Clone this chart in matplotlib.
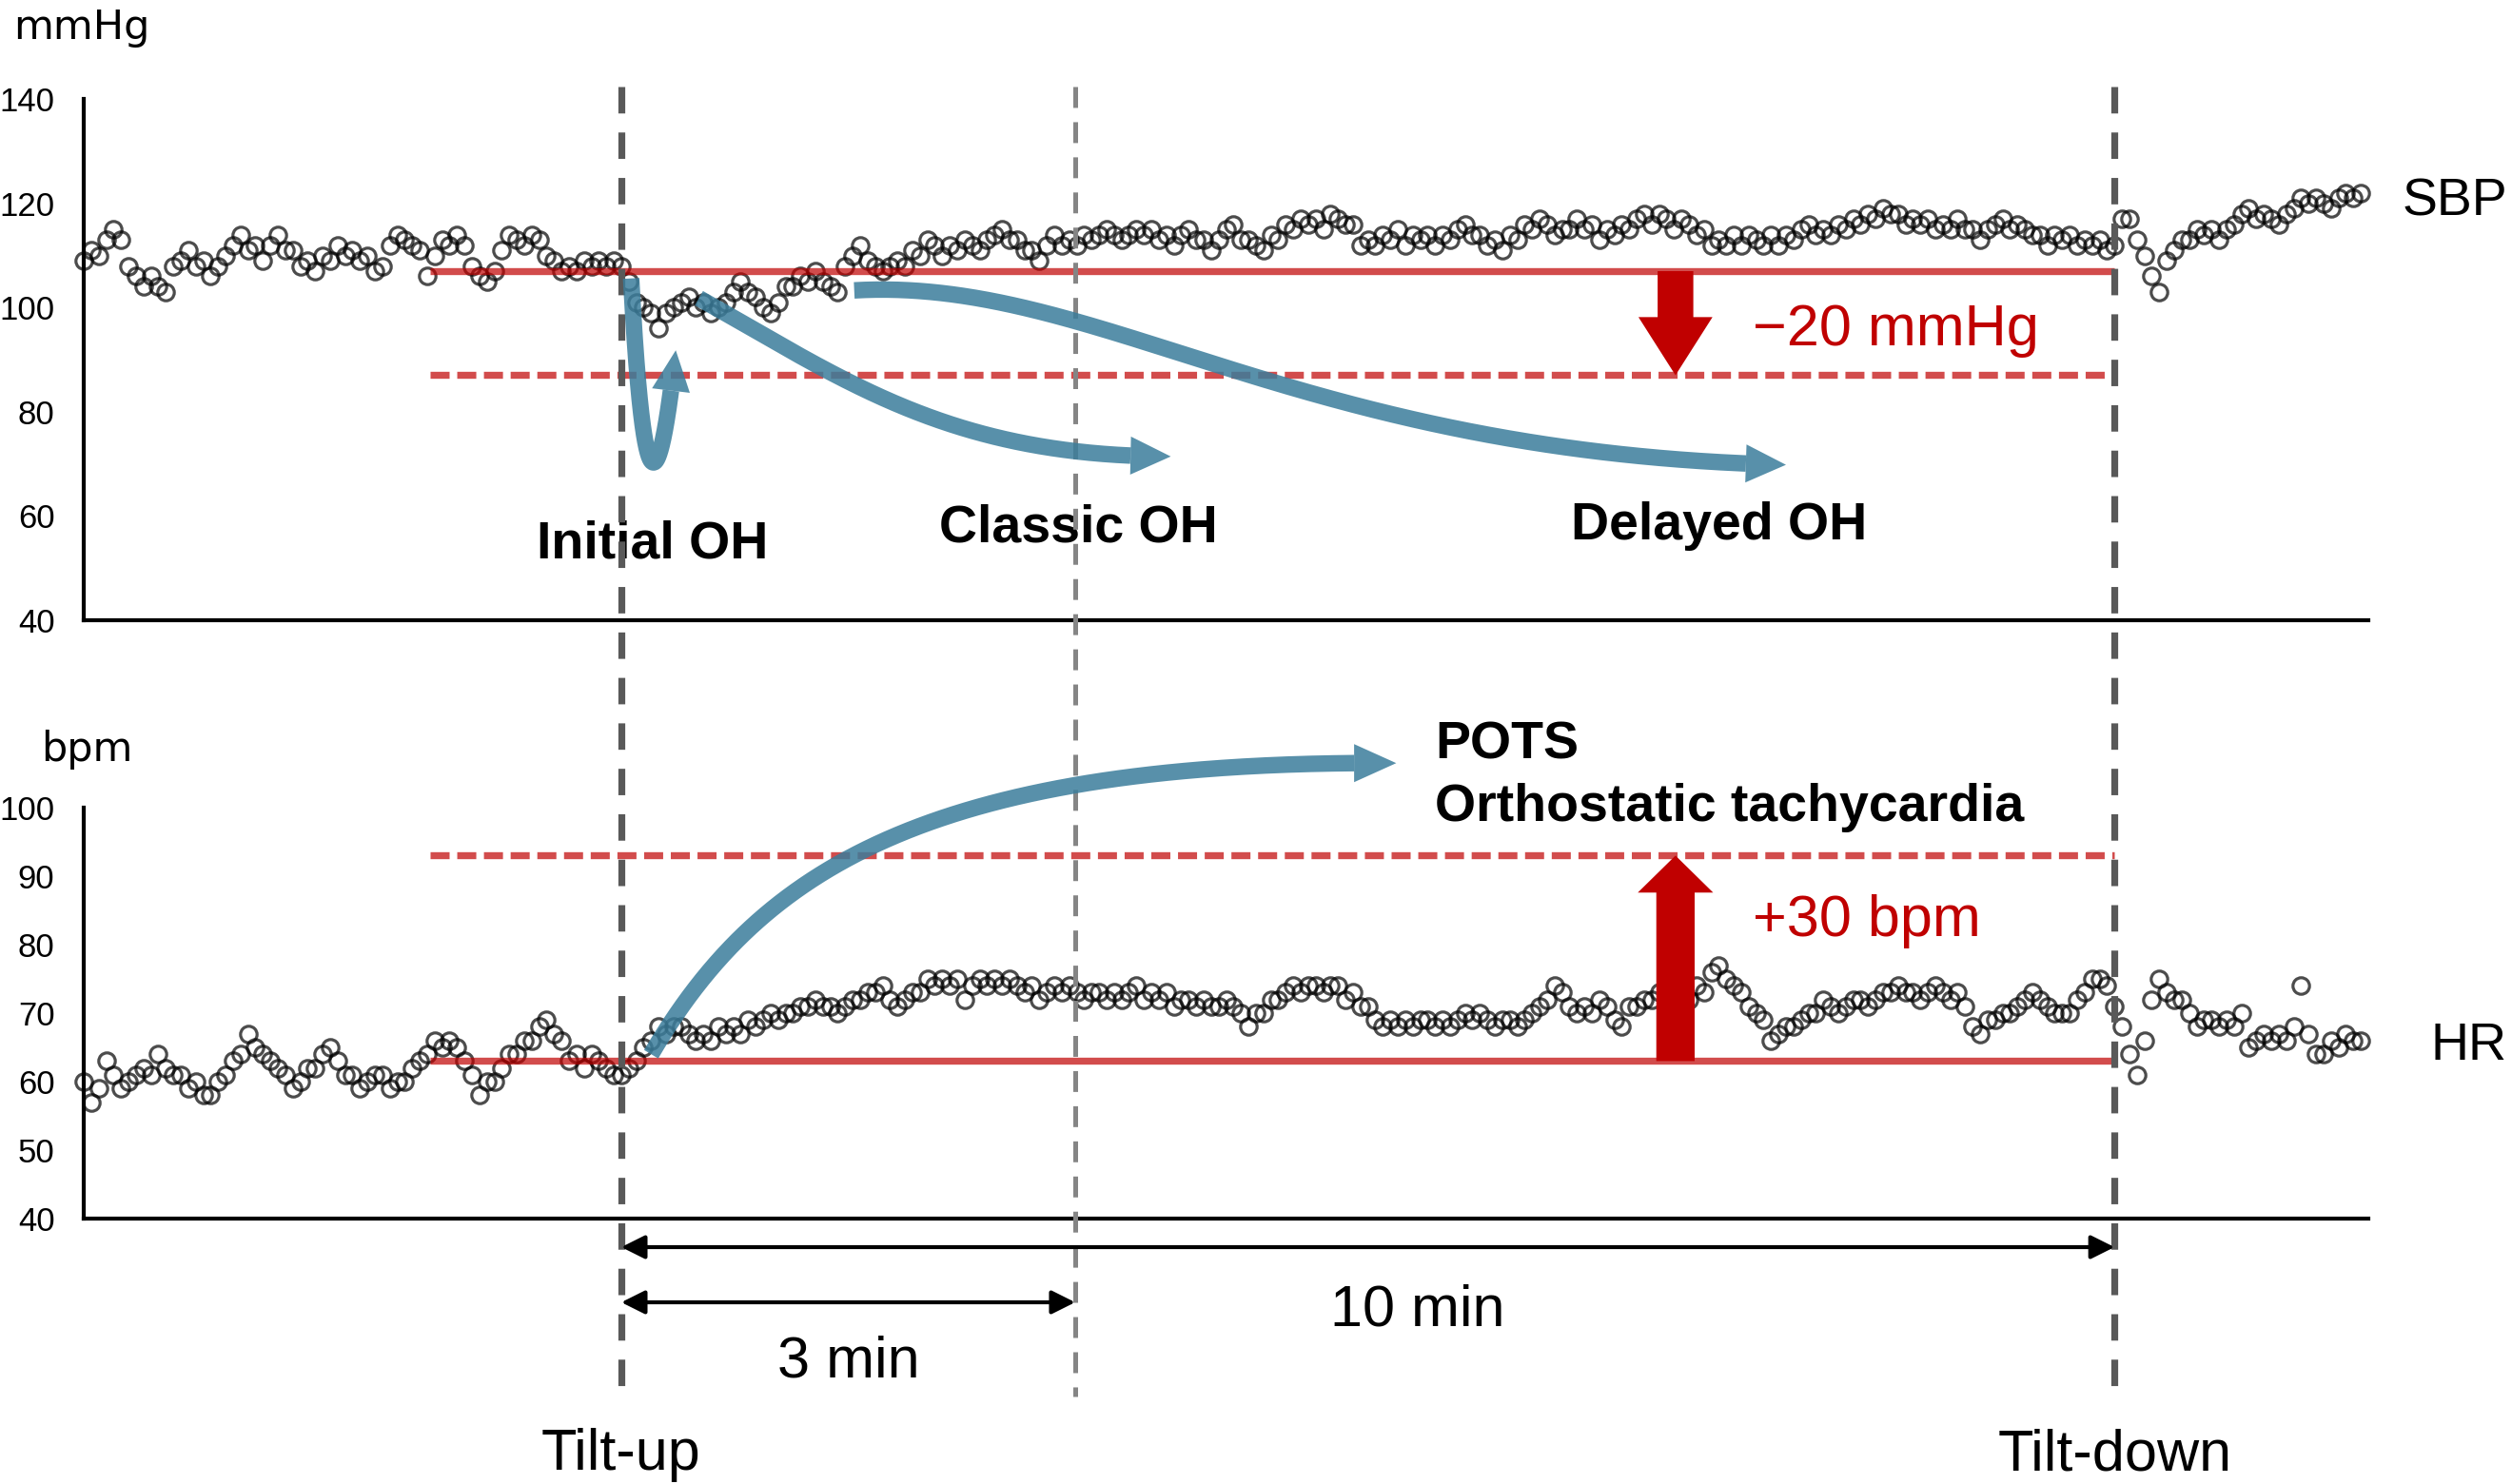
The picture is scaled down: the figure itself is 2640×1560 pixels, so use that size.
import numpy as np
import matplotlib
matplotlib.use('Agg')
import matplotlib.pyplot as plt
from matplotlib import transforms
from matplotlib.lines import Line2D
from matplotlib.patches import Polygon, FancyArrowPatch

plt.rcParams['font.family'] = ['Liberation Sans', 'DejaVu Sans']
plt.rcParams['lines.scale_dashes'] = False

# beat readings, one value every 0.05 min starting at -3.6 min (tilt-up = 0)
T_START = -3.6
STEP = 0.05

sbp = [
    109, 111, 110, 113, 115, 113, 108, 106, 104, 106, 104, 103, 108, 109, 111, 108, 109, 106, 108, 110,
    112, 114, 111, 112, 109, 112, 114, 111, 111, 108, 109, 107, 110, 109, 112, 110, 111, 109, 110, 107,
    108, 112, 114, 113, 112, 111, 106, 110, 113, 112, 114, 112, 108, 106, 105, 107, 111, 114, 113, 112,
    114, 113, 110, 109, 107, 108, 107, 109, 108, 109, 108, 109, 108, 105, 101, 100, 99, 96, 99, 100,
    101, 102, 100, 101, 99, 100, 101, 103, 105, 103, 102, 100, 99, 101, 104, 104, 106, 105, 107, 105,
    104, 103, 108, 110, 112, 109, 108, 107, 108, 109, 108, 111, 110, 113, 112, 110, 112, 111, 113, 112,
    111, 113, 114, 115, 113, 113, 111, 111, 109, 112, 114, 112, 113, 112, 114, 113, 114, 115, 114, 113,
    114, 115, 114, 115, 113, 114, 112, 114, 115, 113, 113, 111, 113, 115, 116, 113, 113, 112, 111, 114,
    113, 116, 115, 117, 116, 117, 115, 118, 117, 116, 116, 112, 113, 112, 114, 113, 115, 112, 114, 113,
    114, 112, 114, 113, 115, 116, 114, 114, 112, 113, 111, 114, 113, 116, 115, 117, 116, 114, 115, 115,
    117, 115, 116, 113, 115, 114, 116, 115, 117, 118, 116, 118, 117, 115, 117, 116, 114, 115, 112, 113,
    112, 114, 112, 114, 113, 112, 114, 112, 114, 113, 115, 116, 114, 115, 114, 116, 115, 117, 116, 118,
    117, 119, 118, 118, 116, 117, 116, 117, 115, 116, 115, 117, 115, 115, 113, 115, 116, 117, 115, 116,
    115, 114, 114, 112, 114, 113, 114, 112, 113, 112, 113, 111, 112, 117, 117, 113, 110, 106, 103, 109,
    111, 113, 113, 115, 114, 115, 113, 115, 116, 118, 119, 117, 118, 117, 116, 118, 119, 121, 120, 121,
    120, 119, 121, 122, 121, 122,
]

hr = [
    60, 57, 59, 63, 61, 59, 60, 61, 62, 61, 64, 62, 61, 61, 59, 60, 58, 58, 60, 61,
    63, 64, 67, 65, 64, 63, 62, 61, 59, 60, 62, 62, 64, 65, 63, 61, 61, 59, 60, 61,
    61, 59, 60, 60, 62, 63, 64, 66, 65, 66, 65, 63, 61, 58, 60, 60, 62, 64, 64, 66,
    66, 68, 69, 67, 66, 63, 64, 62, 64, 63, 62, 61, 61, 62, 63, 65, 66, 68, 67, 68,
    68, 67, 66, 67, 66, 68, 67, 68, 67, 69, 68, 69, 70, 69, 70, 70, 71, 71, 72, 71,
    71, 70, 71, 72, 72, 73, 73, 74, 72, 71, 72, 73, 73, 75, 74, 75, 74, 75, 72, 74,
    75, 74, 75, 74, 75, 74, 73, 74, 72, 73, 74, 73, 74, 73, 72, 73, 73, 72, 73, 72,
    73, 74, 72, 73, 72, 73, 71, 72, 72, 71, 72, 71, 71, 72, 71, 70, 68, 70, 70, 72,
    72, 73, 74, 73, 74, 74, 73, 74, 74, 72, 73, 71, 71, 69, 68, 69, 68, 69, 68, 69,
    69, 68, 69, 68, 69, 70, 69, 70, 69, 68, 69, 69, 68, 69, 70, 71, 72, 74, 73, 71,
    70, 71, 70, 72, 71, 69, 68, 71, 71, 72, 72, 73, 74, 73, 73, 72, 74, 73, 76, 77,
    75, 74, 73, 71, 70, 69, 66, 67, 68, 68, 69, 70, 70, 72, 71, 70, 71, 72, 72, 71,
    72, 73, 73, 74, 73, 73, 72, 73, 74, 73, 72, 73, 71, 68, 67, 69, 69, 70, 70, 71,
    72, 73, 72, 71, 70, 70, 70, 72, 73, 75, 75, 74, 71, 68, 64, 61, 66, 72, 75, 73,
    72, 72, 70, 68, 69, 69, 68, 69, 68, 70, 65, 66, 67, 66, 67, 66, 68, 74, 67, 64,
    64, 66, 65, 67, 66, 66,
]

TILT_UP = 0.0
THREE_MIN = 3.04
TILT_DOWN = 10.0
X_MIN, X_MAX = -3.6, 11.7
LABEL_RIGHT = 12.63               # right edge of the SBP / HR labels

sbp_ticks = [40, 60, 80, 100, 120, 140]
hr_ticks = [40, 50, 60, 70, 80, 90, 100]

sbp_base, sbp_limit = 107, 87     # baseline and -20 mmHg
hr_base, hr_limit = 63, 93        # baseline and +30 bpm
ref_start = -1.28                 # reference lines start here
delta_x = 7.06                    # where the red arrows sit

# blue trend arrows, cubic bezier control points (min, value)
initial_oh = [(0.066, 105.6), (0.15, 60), (0.25, 62), (0.365, 91.8)]
classic_oh = [(0.52, 101.8), (1.5, 86), (2.2, 71.4), (3.68, 71.4)]
delayed_oh = [(1.56, 103.3), (3.2, 106), (4.5, 72), (7.8, 69.8)]
pots = [(0.2, 64), (0.9, 90), (2.0, 107), (5.19, 106.5)]

RED = '#c00000'
BLUE = '#3b7d9b'

W, H = 2640, 1560
fig = plt.figure(figsize=(W / 100, H / 100), dpi=100)
ax1 = fig.add_axes([88 / W, 1 - 651.7 / H, (2489 - 88) / W, 547.3 / H])
ax2 = fig.add_axes([88 / W, 1 - 1281 / H, (2489 - 88) / W, 432 / H])


def style(ax, lo, hi, ticks):
    ax.set_xlim(X_MIN, X_MAX)
    ax.set_ylim(lo, hi)
    ax.set_yticks(ticks)
    ax.set_xticks([])
    ax.tick_params(axis='y', length=0, pad=22, labelsize=25)
    for s in ('top', 'right'):
        ax.spines[s].set_visible(False)
    for s in ('left', 'bottom'):
        ax.spines[s].set_linewidth(3)
        ax.spines[s].set_color('black')


style(ax1, 40, 140, sbp_ticks)
style(ax2, 40, 100, hr_ticks)

marker = dict(marker='o', ls='none', ms=12.5, mfc='none', mec='black', mew=2.3,
              alpha=0.7, clip_on=False, zorder=3)
t_sbp = T_START + STEP * np.arange(len(sbp))
t_hr = T_START + STEP * np.arange(len(hr))
ax1.plot(t_sbp, sbp, **marker)
ax2.plot(t_hr, hr, **marker)

# red reference lines and arrows
for ax, base, lim in ((ax1, sbp_base, sbp_limit), (ax2, hr_base, hr_limit)):
    ax.plot([ref_start, TILT_DOWN], [base, base], color=RED, alpha=0.7, lw=5.3,
            solid_capstyle='butt', zorder=4)
    ax.plot([ref_start, TILT_DOWN], [lim, lim], color=RED, alpha=0.7, lw=5.3,
            dashes=(14.4, 5.8), dash_capstyle='butt', zorder=4)

ax1.add_patch(FancyArrowPatch((delta_x, sbp_base), (delta_x, sbp_limit),
                              arrowstyle='simple,head_length=44,head_width=56,tail_width=27',
                              mutation_scale=1, shrinkA=0, shrinkB=0, color=RED, lw=0, zorder=5))
ax2.add_patch(FancyArrowPatch((delta_x, hr_base), (delta_x, hr_limit),
                              arrowstyle='simple,head_length=28,head_width=57,tail_width=29',
                              mutation_scale=1, shrinkA=0, shrinkB=0, color=RED, lw=0, zorder=5))

# vertical markers across both panels
blend = transforms.blended_transform_factory(ax2.transData, fig.transFigure)
y_top, y_bot = 1 - 91 / H, 1 - 1468 / H
for x, c, lw, d in ((TILT_UP, '#595959', 5.2, (20, 14.4)),
                    (TILT_DOWN, '#595959', 5.2, (20, 14.4)),
                    (THREE_MIN, '#858585', 3.6, (15.8, 10.8))):
    fig.add_artist(Line2D([x, x], [y_top, y_bot], transform=blend, color=c, lw=lw,
                          dashes=d, dash_capstyle='butt', zorder=3))

# duration arrows
for x0, x1, yf in ((TILT_UP, TILT_DOWN, 1 - 1311 / H), (TILT_UP, THREE_MIN, 1 - 1369 / H)):
    fig.add_artist(FancyArrowPatch((x0, yf), (x1, yf), transform=blend,
                                   arrowstyle='<|-|>,head_length=0.5,head_width=0.25',
                                   mutation_scale=30, lw=3, color='black',
                                   shrinkA=0, shrinkB=0, zorder=4))


def blue_arrow(ax, ctrl, head_len=42, head_w=40, lw=12.5):
    p = ax.transData.transform(np.array(ctrl, float))
    s = np.linspace(0, 1, 400)[:, None]
    curve = ((1 - s) ** 3 * p[0] + 3 * (1 - s) ** 2 * s * p[1]
             + 3 * (1 - s) * s ** 2 * p[2] + s ** 3 * p[3])
    tip = curve[-1]
    dist = np.hypot(*(curve - tip).T)
    k = np.nonzero(dist >= head_len)[0][-1]
    base = curve[k]
    u = (tip - base) / np.hypot(*(tip - base))
    n = np.array([-u[1], u[0]])
    to_fig = fig.transFigure.inverted()
    shaft = to_fig.transform(curve[:k + 1])
    head = to_fig.transform(np.array([tip, base + n * head_w / 2, base - n * head_w / 2]))
    fig.add_artist(Line2D(shaft[:, 0], shaft[:, 1], transform=fig.transFigure, color=BLUE,
                          alpha=0.85, lw=lw, solid_capstyle='butt', solid_joinstyle='round', zorder=6))
    fig.add_artist(Polygon(head, closed=True, transform=fig.transFigure, facecolor=BLUE,
                           edgecolor='none', alpha=0.85, zorder=6))


blue_arrow(ax1, initial_oh)
blue_arrow(ax1, classic_oh)
blue_arrow(ax1, delayed_oh)
blue_arrow(ax2, pots)

# labels
bold = dict(fontsize=40, fontweight='bold', va='baseline')
ax1.text(0.21, 52.0, 'Initial OH', ha='center', **bold)
ax1.text(3.06, 55.1, 'Classic OH', ha='center', **bold)
ax1.text(7.35, 55.5, 'Delayed OH', ha='center', **bold)
ax2.text(5.45, 107.1, 'POTS', ha='left', **bold)
ax2.text(5.45, 98.0, 'Orthostatic tachycardia', ha='left', **bold)
ax1.text(7.58, 92.8, '\u221220 mmHg', color=RED, fontsize=44, va='baseline')
ax2.text(7.58, 81.3, '+30 bpm', color=RED, fontsize=44, va='baseline')
ax1.text(LABEL_RIGHT, 117.6, 'SBP', fontsize=40, ha='right', va='baseline')
ax2.text(LABEL_RIGHT, 63.2, 'HR', fontsize=40, ha='right', va='baseline')
fig.text(14 / W, 1 - 41 / H, 'mmHg', family='DejaVu Sans', fontsize=31, va='baseline')
fig.text(43 / W, 1 - 800 / H, 'bpm', family='DejaVu Sans', fontsize=31, va='baseline')

fig.text(1.52, 1 - 1447 / H, '3 min', transform=blend, fontsize=44, ha='center', va='baseline')
fig.text(5.33, 1 - 1393 / H, '10 min', transform=blend, fontsize=44, ha='center', va='baseline')
fig.text(TILT_UP, 1 - 1545 / H, 'Tilt-up', transform=blend, fontsize=44, ha='center', va='baseline')
fig.text(TILT_DOWN, 1 - 1545 / H, 'Tilt-down', transform=blend, fontsize=44, ha='center', va='baseline')

fig.savefig('out.png', dpi=100)
